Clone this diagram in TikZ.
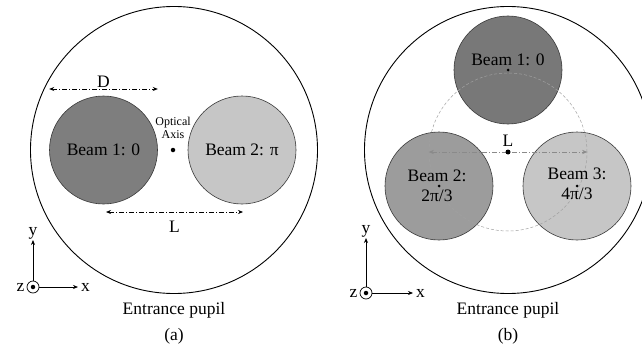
\documentclass[tikz,border=0pt]{standalone}
\usepackage{fontspec}
\setmainfont{Liberation Serif}
\usetikzlibrary{arrows.meta,calc}
\definecolor{Edge}{HTML}{3A3A3A}
\definecolor{BeamDark}{HTML}{7E7E7E}
\definecolor{BeamMid}{HTML}{9C9C9C}
\definecolor{BeamLight}{HTML}{C6C6C6}
\definecolor{RingGray}{HTML}{8A8A8A}
\begin{document}
\begin{tikzpicture}[x=1pt,y=-1pt,>={Stealth[length=5pt,width=4pt]},font=\fontsize{17.5}{20}\selectfont,
    pupil/.style={draw,line width=0.9pt,circle,minimum size=287pt,inner sep=0pt},
    beam/.style={draw=Edge,line width=0.6pt,circle,minimum size=108pt,inner sep=0pt,align=center},
    dimline/.style={<->,line width=0.7pt,dash pattern=on 5pt off 2pt on 1pt off 2pt},
    dot/.style={circle,fill=black,inner sep=0pt,minimum size=#1},
    zaxis/.style={draw,line width=0.7pt,circle,inner sep=0pt,minimum size=12pt},
    axis/.style={->,line width=0.7pt}]
  \useasboundingbox (0,0) rectangle (642,353);
  % (a)
  \node[pupil] (pa) at (174,150) {};
  \node[beam,fill=BeamDark] (a1) at (103.5,150) {Beam 1: 0};
  \node[beam,fill=BeamLight] (a2) at (242,150) {Beam 2: π};
  \node[dot=4.5pt] (oa) at (173,150) {};
  \node[font=\fontsize{12}{13}\selectfont,align=center] (oatext) at (173,128) {Optical\\Axis};
  \coordinate (dl) at ($(a1.west)+(0,-61)$);
  \coordinate (dr) at ($(a1.east)+(0,-61)$);
  \draw[dimline] (dl) -- node[above,inner sep=1.5pt] (dlab) {D} (dr);
  \coordinate (ll) at ($(a1.center)+(2.5,62)$);
  \coordinate (lr) at ($(a2.center)+(1,62)$);
  \draw[dimline] (ll) -- node[below=9pt,inner sep=0pt] (llab) {L} (lr);
  \node[zaxis] (za) at (33,287) {};
  \node[dot=4.5pt] (zadot) at (za) {};
  \coordinate (ya) at (33,240);
  \coordinate (xa) at (78,287);
  \draw[axis] (za) -- (ya);
  \draw[axis] (za) -- (xa);
  \node[anchor=south,inner sep=1pt] (yalab) at (ya) {y};
  \node[anchor=west,inner sep=3pt] (xalab) at (xa) {x};
  \node[anchor=east,inner sep=2pt] (zalab) at (za.west) {z};
  \node (pupila) at (174,310) {Entrance pupil};
  \node (capa) at (174,336) {(a)};
  % (b)
  \node[pupil] (pb) at (508,150) {};
  \node[beam,fill=BeamDark!95!black] (b1) at (508,70) {};
  \node[beam,fill=BeamMid] (b2) at (439,186) {};
  \node[beam,fill=BeamLight] (b3) at (577,186) {};
  \node[draw=RingGray!80,line width=0.5pt,dash pattern=on 3pt off 2pt,circle,inner sep=0pt,minimum size=158pt] (ring) at (508,152) {};
  \draw[dimline,RingGray,line width=0.5pt] (ring.west) -- (ring.east);
  \node[dot=5pt] (cb) at (508,152) {};
  \node[anchor=south,inner sep=3pt] (lb) at (cb.north) {L};
  \node[dot=3pt] (b1c) at (b1) {};
  \node[dot=3pt] (b2c) at (b2) {};
  \node[dot=3pt] (b3c) at (b3) {};
  \node (b1lab) at ($(b1.center)+(0,-10)$) {Beam 1: 0};
  \node[align=center] (b2lab) at ($(b2.center)+(-2,0)$) {Beam 2:\\2π/3};
  \node[align=center] (b3lab) at ($(b3.center)+(0,-2)$) {Beam 3:\\4π/3};
  \node[zaxis] (zb) at (366,293) {};
  \node[dot=4.5pt] (zbdot) at (zb) {};
  \coordinate (yb) at (366,238);
  \coordinate (xb) at (413,293);
  \draw[axis] (zb) -- (yb);
  \draw[axis] (zb) -- (xb);
  \node[anchor=south,inner sep=1pt] (yblab) at (yb) {y};
  \node[anchor=west,inner sep=3pt] (xblab) at (xb) {x};
  \node[anchor=east,inner sep=2pt] (zblab) at (zb.west) {z};
  \node (pupilb) at (508,310) {Entrance pupil};
  \node (capb) at (508,336) {(b)};
\end{tikzpicture}
\end{document}
